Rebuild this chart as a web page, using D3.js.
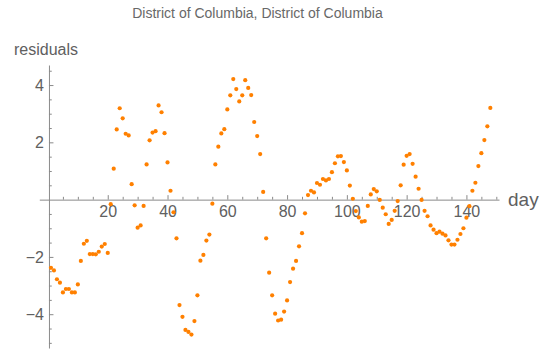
<!DOCTYPE html>
<html>
<head>
<meta charset="utf-8">
<script src="https://cdn.jsdelivr.net/npm/d3@7"></script>
<style>
  html, body { margin: 0; padding: 0; background: #fff; }
  svg { display: block; font-family: "Liberation Sans", Arial, sans-serif; }
</style>
</head>
<body>
<svg id="chart" width="546" height="354"></svg>
<script>
// Daily residuals, District of Columbia (day 1 onward)
const firstDay = 1;
const residuals = [
  -2.38, -2.47, -2.78, -2.90, -3.24, -3.12, -3.12, -3.24, -3.24, -2.96,
  -2.14, -1.54, -1.44, -1.90, -1.90, -1.91, -1.82, -1.64, -1.55, -1.86,
  -0.16,  1.08,  2.45,  3.19,  2.84,  2.30,  2.24,  0.54, -0.20, -0.98,
  -0.90, -0.22,  1.23,  2.07,  2.34,  2.39,  3.29,  3.05,  2.32,  1.30,
   0.31, -0.44, -1.35, -3.68, -4.09, -4.55, -4.62, -4.71, -4.24, -3.34,
  -2.13, -1.93, -1.43, -1.22, -0.14,  1.23,  1.85,  2.31,  2.46,  3.15,
   3.64,  4.21,  3.86,  3.43,  3.64,  4.17,  3.90,  3.65,  2.71,  2.22,
   1.59,  0.27, -1.35, -2.55, -3.34, -3.98, -4.22, -4.19, -3.91, -3.52,
  -2.88, -2.41, -2.14, -1.63, -1.17, -0.48,  0.16,  0.31,  0.25,  0.58,
   0.52,  0.72,  0.67,  0.72,  0.96,  1.27,  1.51,  1.52,  1.31,  1.02,
   0.49,  0.03, -0.40, -0.62, -0.77, -0.75, -0.22,  0.18,  0.37,  0.29,
  -0.01, -0.28, -0.51, -0.85, -0.71, -0.39, -0.05,  0.50,  1.22,  1.53,
   1.59,  1.25,  0.80,  0.38, -0.01, -0.39, -0.58, -0.90, -1.05, -1.17,
  -1.12, -1.19, -1.25, -1.42, -1.57, -1.57, -1.40, -1.20, -1.00, -0.63,
  -0.23,  0.31,  0.59,  1.17,  1.62,  2.08,  2.56,  3.20
];

// Axis ticks
const xMajorTicks = [20, 40, 60, 80, 100, 120, 140];
const xMinorTicks = [5, 10, 15, 25, 30, 35, 45, 50, 55, 65, 70, 75, 85, 90, 95,
                     105, 110, 115, 125, 130, 135, 145, 150];
const yMajorTicks = [-4, -2, 2, 4];
const yMinorTicks = [-5, -4.5, -3.5, -3, -2.5, -1.5, -1, -0.5, 0.5, 1, 1.5,
                     2.5, 3, 3.5, 4.5];

const titleText = "District of Columbia, District of Columbia";
const xLabel = "day";
const yLabel = "residuals";

const points = residuals.map((v, i) => ({ day: firstDay + i, value: v }));

const svg = d3.select("#chart");

const x = d3.scaleLinear().domain([-2.9, 150.9]).range([39.3, 499]);
const y = d3.scaleLinear().domain([-5.18, 4.70]).range([348, 65]);

const axisColor = "#8a8a8a";
const labelColor = "#606060";

function styleAxis(g) {
  g.selectAll("path.domain").attr("stroke", axisColor);
  g.selectAll(".tick line").attr("stroke", axisColor);
  g.selectAll(".tick text")
    .attr("fill", labelColor)
    .style("font-size", "16px")
    .style("font-family", "'Liberation Sans', Arial, sans-serif");
}

// x axis (ticks pointing up, labels below)
const gx = svg.append("g").attr("transform", `translate(0,${y(0)})`);
gx.call(d3.axisBottom(x).tickValues(xMinorTicks).tickSizeInner(-2.8)
  .tickSizeOuter(0).tickFormat(""));
const gxMajor = svg.append("g").attr("transform", `translate(0,${y(0)})`);
gxMajor.call(d3.axisBottom(x).tickValues(xMajorTicks).tickSizeInner(-4.5)
  .tickSizeOuter(0).tickPadding(6).tickFormat(d3.format("d")));
gxMajor.select("path.domain").remove();
styleAxis(gx);
styleAxis(gxMajor);

// y axis (ticks pointing right, labels left)
const gy = svg.append("g").attr("transform", `translate(${x(0) + 1},0)`);
gy.call(d3.axisLeft(y).tickValues(yMinorTicks).tickSizeInner(-2.8)
  .tickSizeOuter(0).tickFormat(""));
const gyMajor = svg.append("g").attr("transform", `translate(${x(0) + 1},0)`);
gyMajor.call(d3.axisLeft(y).tickValues(yMajorTicks).tickSizeInner(-4.5)
  .tickSizeOuter(0).tickPadding(5).tickFormat(d3.format("d")));
gyMajor.select("path.domain").remove();
styleAxis(gy);
styleAxis(gyMajor);

// Axis labels and title
svg.append("text")
  .attr("x", 14).attr("y", 55)
  .attr("fill", labelColor)
  .style("font-size", "16px")
  .text(yLabel);

svg.append("text")
  .attr("x", 508).attr("y", y(0))
  .attr("dy", "0.35em")
  .attr("fill", labelColor)
  .style("font-size", "19px")
  .text(xLabel);

svg.append("text")
  .attr("x", 257.5).attr("y", 18)
  .attr("text-anchor", "middle")
  .attr("fill", "#686868")
  .style("font-size", "14px")
  .text(titleText);

// Residual points
svg.append("g")
  .selectAll("circle")
  .data(points)
  .join("circle")
  .attr("cx", d => x(d.day))
  .attr("cy", d => y(d.value))
  .attr("r", 2.1)
  .attr("fill", "rgb(255,128,0)");
</script>
</body>
</html>
